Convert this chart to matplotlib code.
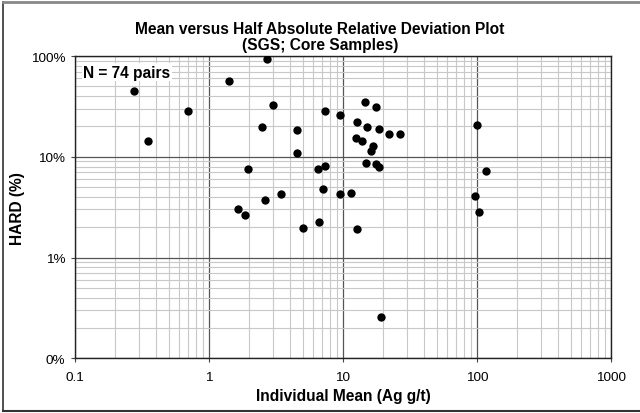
import matplotlib.pyplot as plt
from matplotlib.ticker import FixedLocator, FixedFormatter, LogLocator, NullFormatter
from matplotlib.lines import Line2D

plt.rcParams["font.family"] = ["Liberation Sans", "DejaVu Sans"]

# individual mean (Ag g/t) and HARD (%)
mean_ag = [0.275, 0.349, 0.70, 1.40, 2.72, 2.99, 2.50, 4.56, 4.5, 1.96,
           1.64, 1.87, 2.62, 3.47, 5.02, 6.65, 6.47, 7.35, 7.13, 7.3,
           9.55, 9.55, 11.5, 12.8, 12.65, 12.6, 13.9, 14.5, 17.6, 15.1,
           18.7, 22.0, 26.5, 16.8, 16.3, 14.9, 17.6, 18.7, 19.1, 100.0,
           116.7, 96.6, 104.0]
hard_pct = [45.0, 14.3, 28.4, 56.7, 93.8, 33.0, 19.7, 18.6, 10.9, 7.6,
            3.04, 2.67, 3.73, 4.31, 1.98, 2.24, 7.6, 8.1, 4.83, 28.6,
            26.1, 4.28, 4.35, 1.94, 22.0, 15.4, 14.2, 34.9, 31.1, 19.7,
            18.9, 16.9, 16.9, 12.9, 11.5, 8.7, 8.5, 8.0, 0.259, 20.7,
            7.2, 4.1, 2.86]

y_ticks = [0.1, 1, 10, 100]
y_labels = ["0%", "1%", "10%", "100%"]
x_ticks = [0.1, 1, 10, 100, 1000]
x_labels = ["0.1", "1", "10", "100", "1000"]

fig = plt.figure(figsize=(6.4, 4.14), dpi=100)
ax = fig.add_axes([75 / 640, 1 - 359.3 / 414, 536 / 640, 302.3 / 414])

ax.scatter(mean_ag, hard_pct, s=36, color="black", zorder=3, linewidths=0)

ax.set_xscale("log")
ax.set_yscale("log")
ax.set_xlim(0.1, 1000)
ax.set_ylim(0.1, 100)

ax.xaxis.set_major_locator(FixedLocator(x_ticks))
ax.xaxis.set_major_formatter(FixedFormatter(x_labels))
ax.yaxis.set_major_locator(FixedLocator(y_ticks))
ax.yaxis.set_major_formatter(FixedFormatter(y_labels))
for axis in (ax.xaxis, ax.yaxis):
    axis.set_minor_locator(LogLocator(base=10, subs=range(2, 10)))
    axis.set_minor_formatter(NullFormatter())

ax.grid(which="major", color="#555555", linewidth=0.9, zorder=1)
ax.grid(which="minor", color="#c8c8c8", linewidth=0.8, zorder=0)
ax.tick_params(which="major", length=3, width=0.8, labelsize=9.7, color="#444444", pad=4)
ax.tick_params(axis="x", which="major", pad=6)
ax.tick_params(which="minor", length=0)
for sp in ax.spines.values():
    sp.set_color("#222222")
    sp.set_linewidth(1.0)

ax.set_xlabel("Individual Mean (Ag g/t)", fontsize=11.2, fontweight="bold", labelpad=4)
ax.set_ylabel("HARD (%)", fontsize=11.2, fontweight="bold", labelpad=4)
fig.text(0.5, 1 - 37.5 / 414, "Mean versus Half Absolute Relative Deviation Plot\n(SGS; Core Samples)",
         ha="center", va="center", fontsize=11.2, fontweight="bold", linespacing=1.1)

ax.text(0.015, 0.947, "N = 74 pairs", transform=ax.transAxes, fontsize=11.2, fontweight="bold",
        ha="left", va="center", zorder=4,
        bbox={"facecolor": "white", "edgecolor": "none", "pad": 1})

# outer frame of the picture
fig.add_artist(Line2D([3 / 640, 3 / 640], [2 / 414, 1 - 3 / 414], transform=fig.transFigure,
                      color="#333333", linewidth=1.2))
fig.add_artist(Line2D([3 / 640, 1], [1 - 3 / 414, 1 - 3 / 414], transform=fig.transFigure,
                      color="#888888", linewidth=2.0))
fig.add_artist(Line2D([3 / 640, 1], [2 / 414, 2 / 414], transform=fig.transFigure,
                      color="#333333", linewidth=1.5))

fig.savefig("out.png", dpi=100)
plt.close(fig)
